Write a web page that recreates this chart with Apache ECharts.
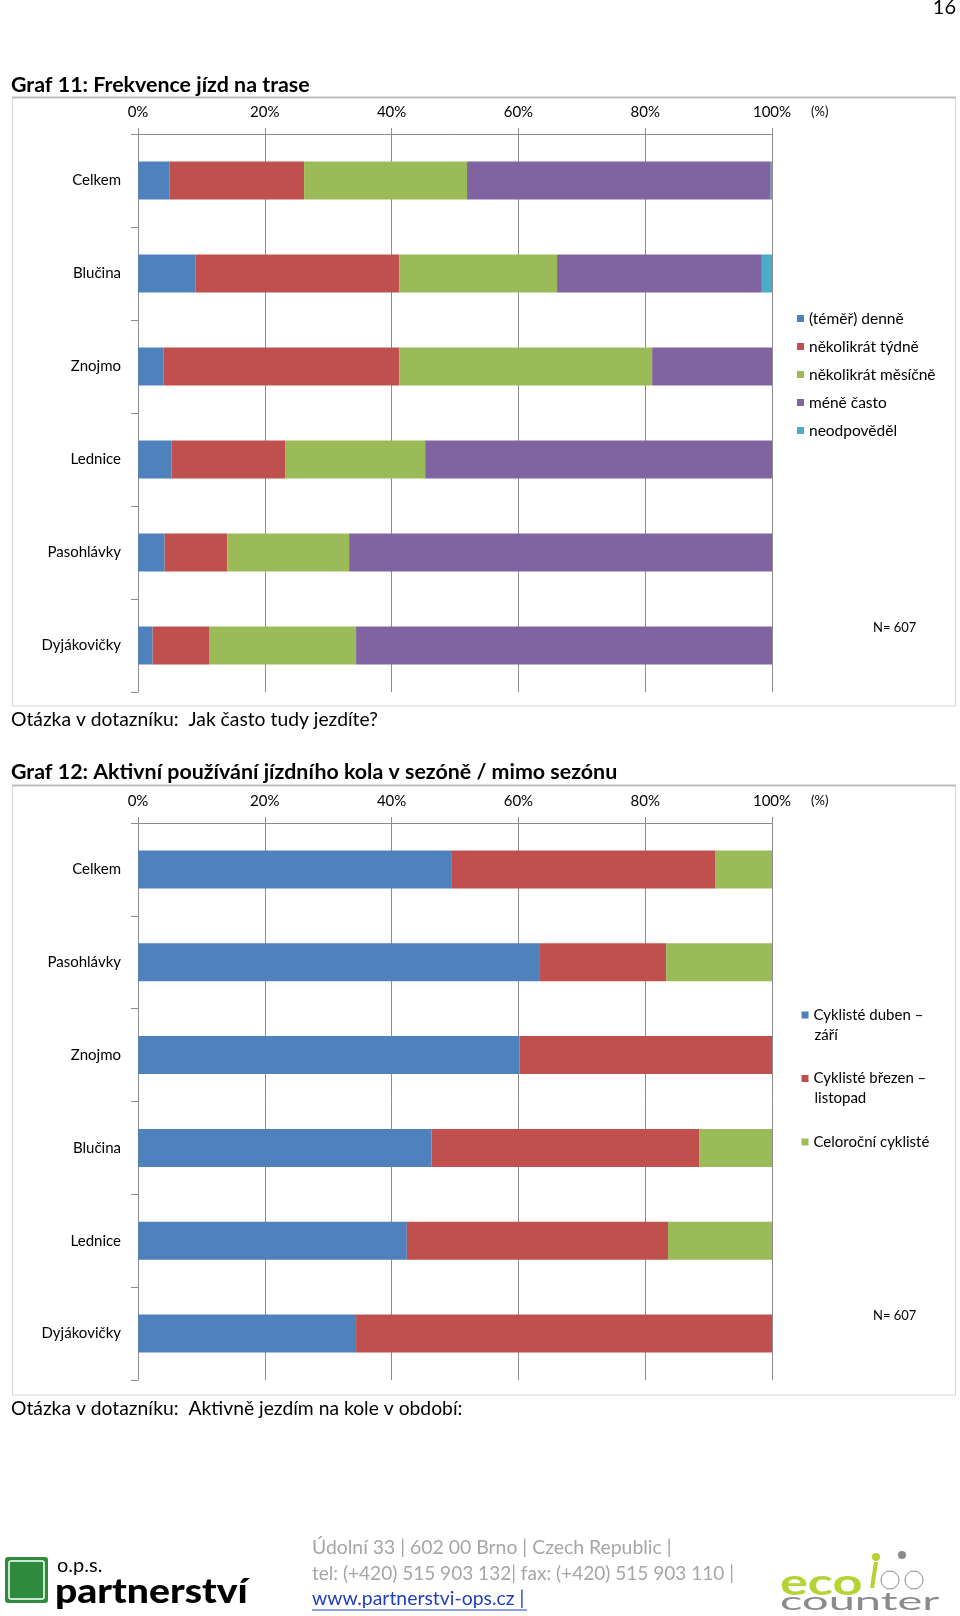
<!DOCTYPE html>
<html>
<head>
<meta charset="utf-8">
<script src="https://cdn.jsdelivr.net/npm/echarts@6/dist/echarts.min.js"></script>
<style>
html,body{margin:0;padding:0;background:#fff;}
#c{width:960px;height:1616px;}
</style>
</head>
<body>
<div id="c"></div>
<script>
// ---- Graf 11 data ----
const cats1 = ['Celkem', 'Blučina', 'Znojmo', 'Lednice', 'Pasohlávky', 'Dyjákovičky'];
const names1 = ['(téměř) denně', 'několikrát týdně', 'několikrát měsíčně', 'méně často', 'neodpověděl'];
const denne = [5.0, 9.1, 4.0, 5.3, 4.2, 2.3];
const tydne = [21.2, 32.1, 37.2, 17.9, 9.9, 8.9];
const mesicne = [25.7, 24.9, 39.9, 22.1, 19.2, 23.2];
const meneCasto = [47.9, 32.3, 18.9, 54.7, 66.7, 65.6];
const neodpovedel = [0.2, 1.6, 0, 0, 0, 0];

// ---- Graf 12 data ----
const cats2 = ['Celkem', 'Pasohlávky', 'Znojmo', 'Blučina', 'Lednice', 'Dyjákovičky'];
const names2 = ['Cyklisté duben – září', 'Cyklisté březen – listopad', 'Celoroční cyklisté'];
const duben = [49.4, 63.4, 60.2, 46.3, 42.4, 34.4];
const brezen = [41.7, 19.9, 39.8, 42.2, 41.2, 65.6];
const celorocni = [8.9, 16.7, 0, 11.5, 16.4, 0];

const tickValues = [0, 20, 40, 60, 80, 100];

const FONT = 'Lato, "Open Sans", sans-serif';
const colors = ['#4f81bd', '#c0504d', '#9bbb59', '#8064a2', '#4bacc6'];
const gridColor = '#8c8c8c';

function xAx(gi) {
  return {
    type: 'value', gridIndex: gi, position: 'top', min: tickValues[0], max: tickValues[tickValues.length - 1], interval: 20,
    axisLine: {show: true, lineStyle: {color: gridColor, width: 1}},
    axisTick: {show: true, length: 6, lineStyle: {color: gridColor}},
    splitLine: {show: true, lineStyle: {color: gridColor, width: 1}},
    axisLabel: {formatter: '{value}%', color: '#000', fontSize: 15, fontFamily: FONT, margin: 14}
  };
}
function yAx(gi, cats) {
  return {
    type: 'category', gridIndex: gi, data: cats, inverse: true,
    axisLine: {show: true, lineStyle: {color: gridColor, width: 1}},
    axisTick: {show: true, length: 7, lineStyle: {color: gridColor}},
    axisLabel: {color: '#000', fontSize: 15, fontFamily: FONT, margin: 17}
  };
}
function bar(name, data, gi, stack, color) {
  return {
    name: name, type: 'bar', stack: stack, xAxisIndex: gi, yAxisIndex: gi,
    data: data, barWidth: 38, itemStyle: {color: color}, emphasis: {disabled: true}
  };
}

const series = [
  bar(names1[0], denne, 0, 's1', colors[0]),
  bar(names1[1], tydne, 0, 's1', colors[1]),
  bar(names1[2], mesicne, 0, 's1', colors[2]),
  bar(names1[3], meneCasto, 0, 's1', colors[3]),
  bar(names1[4], neodpovedel, 0, 's1', colors[4]),
  bar(names2[0], duben, 1, 's2', colors[0]),
  bar(names2[1], brezen, 1, 's2', colors[1]),
  bar(names2[2], celorocni, 1, 's2', colors[2])
];

function txt(x, y, text, size, opts, extra) {
  opts = opts || {};
  return Object.assign({
    type: 'text', x: x, y: y, silent: true,
    style: Object.assign({
      text: text, fontSize: size, fontFamily: FONT, fill: '#000',
      align: 'left', verticalAlign: 'middle'
    }, opts)
  }, extra || {});
}

const graphics = [
  // chart boxes
  {type: 'rect', shape: {x: 12.5, y: 97.5, width: 943, height: 608.5}, style: {fill: 'none', stroke: '#d4d4d4', lineWidth: 1}, silent: true},
  {type: 'line', shape: {x1: 12, y1: 97.5, x2: 956, y2: 97.5}, style: {stroke: '#bdbdbd', lineWidth: 2}, silent: true},
  {type: 'rect', shape: {x: 12.5, y: 785.5, width: 943, height: 609.5}, style: {fill: 'none', stroke: '#d4d4d4', lineWidth: 1}, silent: true},
  {type: 'line', shape: {x1: 12, y1: 785.5, x2: 956, y2: 785.5}, style: {stroke: '#bdbdbd', lineWidth: 2}, silent: true},
  // page number
  txt(956, 8, '16', 20, {align: 'right'}),
  // titles
  txt(11, 85, 'Graf 11: Frekvence jízd na trase', 21.4, {fontWeight: 'bold'}),
  txt(11, 772, 'Graf 12: Aktivní používání jízdního kola v sezóně / mimo sezónu', 21.4, {fontWeight: 'bold'}),
  // questions
  txt(11, 720, 'Otázka v dotazníku:  Jak často tudy jezdíte?', 19.3),
  txt(11, 1408.5, 'Otázka v dotazníku:  Aktivně jezdím na kole v období:', 19.3),
  // (%) units
  txt(811, 112, '(%)', 13),
  txt(811, 801, '(%)', 13),
  // N
  txt(873, 628, 'N= 607', 13),
  txt(873, 1316, 'N= 607', 13),
  // legend 2 continuation lines
  txt(814.5, 1035, 'září', 15),
  txt(814.5, 1098.5, 'listopad', 15),
  // footer
  txt(312, 1548, 'Údolní 33 | 602 00 Brno | Czech Republic |', 19.4, {fill: '#a6a6a6'}),
  txt(312, 1573.5, 'tel: (+420) 515 903 132| fax: (+420) 515 903 110 |', 19.05, {fill: '#a6a6a6'}),
  txt(312, 1599, 'www.partnerstvi-ops.cz |', 19.4, {fill: '#1f3fbf'}),
  {type: 'line', shape: {x1: 312, y1: 1610, x2: 527, y2: 1610}, style: {stroke: '#1f3fbf', lineWidth: 1}, silent: true},
  // partnerstvi logo
  {type: 'rect', shape: {x: 5, y: 1557, width: 43, height: 46, r: 3}, style: {fill: '#2e8b3e'}, silent: true},
  {type: 'rect', shape: {x: 9, y: 1561, width: 35, height: 38, r: 2}, style: {fill: 'none', stroke: '#ffffff', lineWidth: 1.5}, silent: true},
  txt(57, 1566, 'o.p.s.', 20),
  txt(55, 1592, 'partnerství', 34, {fontWeight: 900}, {scaleX: 1.15, originX: 0, originY: 0}),
  // eco-counter logo
  txt(780, 1583, 'eco', 36, {fill: '#b5d334', fontWeight: 'bold'}, {scaleX: 1.45, originX: 0, originY: 0}),
  txt(780, 1602, 'counter', 29, {fill: '#8a8a8a'}, {scaleX: 1.62, scaleY: 0.85, originX: 0, originY: 0}),
  {type: 'circle', shape: {cx: 876, cy: 1557, r: 4}, style: {fill: '#b5d334'}, silent: true},
  {type: 'line', shape: {x1: 876, y1: 1562, x2: 872, y2: 1588}, style: {stroke: '#b5d334', lineWidth: 4}, silent: true},
  {type: 'circle', shape: {cx: 902, cy: 1555, r: 4}, style: {fill: '#8a8a8a'}, silent: true},
  {type: 'circle', shape: {cx: 890, cy: 1580, r: 9}, style: {fill: 'none', stroke: '#8a8a8a', lineWidth: 1}, silent: true},
  {type: 'circle', shape: {cx: 914, cy: 1580, r: 9}, style: {fill: 'none', stroke: '#8a8a8a', lineWidth: 1}, silent: true}
];

const option = {
  animation: false,
  textStyle: {fontFamily: FONT},
  grid: [
    {left: 138, top: 134, width: 634, height: 558},
    {left: 138, top: 823, width: 634, height: 557}
  ],
  xAxis: [xAx(0), xAx(1)],
  yAxis: [yAx(0, cats1), yAx(1, cats2)],
  legend: [
    {
      data: names1, orient: 'vertical', left: 797, top: 309.5, padding: 0,
      itemWidth: 7, itemHeight: 7, itemGap: 10, icon: 'rect', selectedMode: false,
      textStyle: {fontSize: 15.5, lineHeight: 18, color: '#000', fontFamily: FONT}
    },
    {
      data: names2, orient: 'vertical', left: 801.5, top: 1006, padding: 0,
      itemWidth: 7, itemHeight: 7, itemGap: 45.5, itemTextGap: 6, icon: 'rect', selectedMode: false,
      formatter: function (n) { return n === names2[0] ? 'Cyklisté duben –' : (n === names2[1] ? 'Cyklisté březen –' : n); },
      textStyle: {fontSize: 15, lineHeight: 18, color: '#000', fontFamily: FONT}
    }
  ],
  series: series,
  graphic: graphics
};

const chart = echarts.init(document.getElementById('c'), null, {renderer: 'canvas'});
chart.setOption(option);
</script>
</body>
</html>
